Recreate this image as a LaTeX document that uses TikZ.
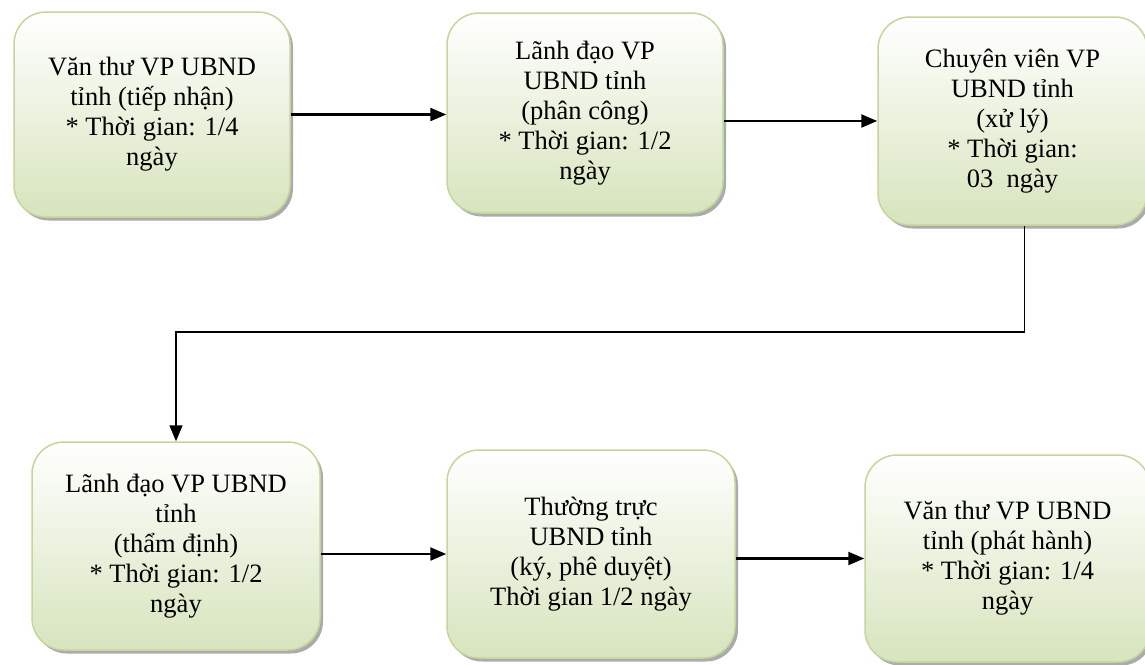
\documentclass[tikz,border=0pt]{standalone}
\usepackage{fontspec}
\setmainfont{Liberation Serif}
\usetikzlibrary{arrows.meta,shadows}
\definecolor{boxline}{HTML}{C3D69B}
\definecolor{boxfill}{HTML}{D7E4BD}

\begin{document}
\begin{tikzpicture}[x=1pt,y=-1pt,
box/.style={rectangle,rounded corners=32pt,draw=boxline,line width=1.5pt,
  top color=white,bottom color=boxfill,
  drop shadow={shadow xshift=3pt,shadow yshift=-3.5pt,fill=black!55,opacity=.6},
  align=center,inner sep=0pt,font=\fontsize{26.5}{30}\selectfont},
arr/.style={line width=2.3pt,-{Triangle[length=16pt,width=13pt]}}]

\useasboundingbox (0,0) rectangle (1145,664);

% top row
\node[box,minimum width=276pt,minimum height=205pt] (b1) at (152,114.5)
  {Văn thư VP UBND\\tỉnh (tiếp nhận)\\* Thời gian: 1/4\\ngày};
\node[box,minimum width=276pt,minimum height=200pt] (b2) at (585,113)
  {Lãnh đạo VP\\UBND tỉnh\\(phân công)\\* Thời gian: 1/2\\ngày};
\node[box,minimum width=269pt,minimum height=208pt] (b3) at (1012.5,121)
  {Chuyên viên VP\\UBND tỉnh\\(xử lý)\\* Thời gian:\\03\ \ ngày};

% bottom row
\node[box,minimum width=288pt,minimum height=208pt] (b4) at (176,546)
  {Lãnh đạo VP UBND\\tỉnh\\(thẩm định)\\* Thời gian: 1/2\\ngày};
\node[box,minimum width=288pt,minimum height=208pt] (b5) at (591,554)
  {Thường trực\\UBND tỉnh\\(ký, phê duyệt)\\Thời gian 1/2 ngày};
\node[box,minimum width=285pt,minimum height=207pt] (b6) at (1007.5,558.5)
  {Văn thư VP UBND\\tỉnh (phát hành)\\* Thời gian: 1/4\\ngày};

\coordinate (turn) at (0,332);

\draw[arr] (b1.east) -- (b1.east -| b2.west);
\draw[arr] (b3.west -| b2.east) -- (b3.west);
\draw[arr,line width=1.6pt] ([xshift=12pt]b3.south) |- (turn -| b4.north) -- (b4.north);
\draw[arr] (b5.west -| b4.east) -- (b5.west);
\draw[arr] (b6.west -| b5.east) -- (b6.west);
\end{tikzpicture}
\end{document}
